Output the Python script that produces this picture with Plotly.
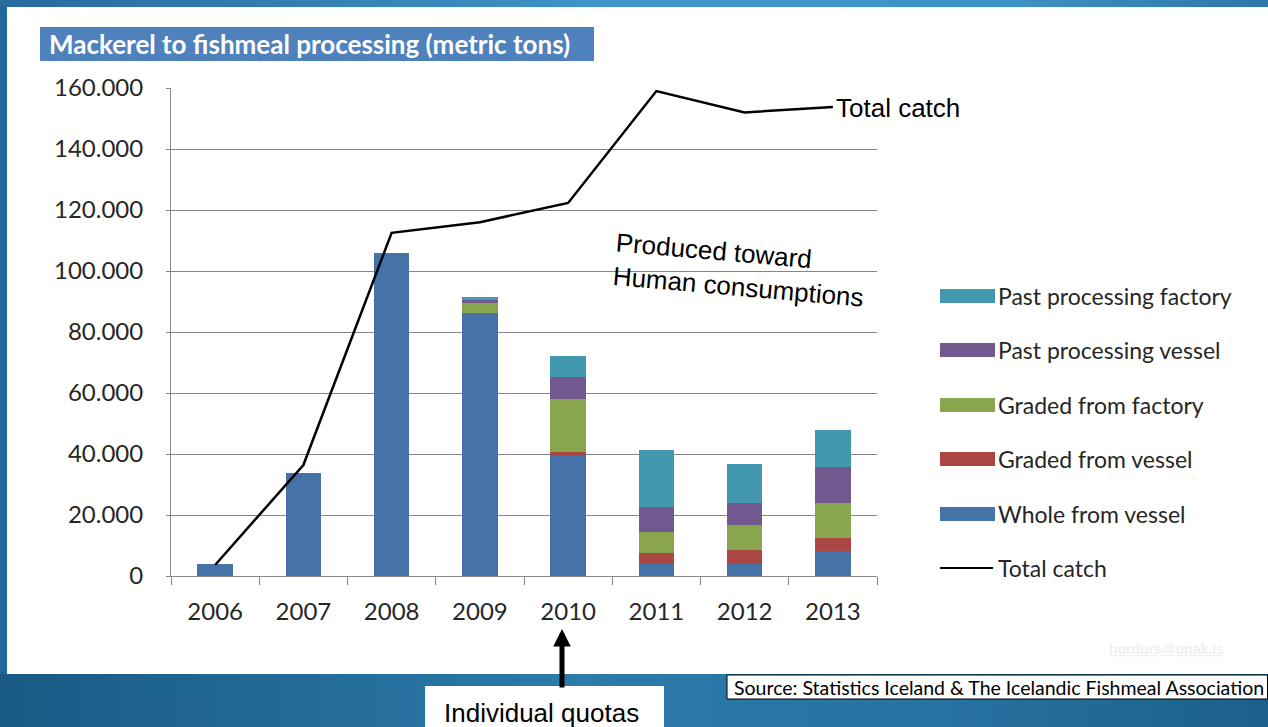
import plotly.graph_objects as go

W, H = 1268, 727

years = ['2006', '2007', '2008', '2009', '2010', '2011', '2012', '2013']
whole_from_vessel = [3800, 33700, 105800, 86300, 39700, 3800, 3800, 8100]
graded_from_vessel = [0, 0, 0, 0, 1000, 3600, 4700, 4400]
graded_from_factory = [0, 0, 0, 3300, 17300, 7100, 8200, 11300]
past_processing_vessel = [0, 0, 0, 1200, 7400, 8200, 7100, 12000]
past_processing_factory = [0, 0, 0, 600, 6700, 18700, 12800, 12000]
total_catch = [3600, 36400, 112500, 116000, 122300, 159000, 152000, 153800]

y_tick_vals = [0, 20000, 40000, 60000, 80000, 100000, 120000, 140000, 160000]
y_tick_text = ['0', '20.000', '40.000', '60.000', '80.000', '100.000', '120.000', '140.000', '160.000']

series = [
    ('Whole from vessel', whole_from_vessel, '#4572A7'),
    ('Graded from vessel', graded_from_vessel, '#AA4643'),
    ('Graded from factory', graded_from_factory, '#89A54E'),
    ('Past processing vessel', past_processing_vessel, '#71588F'),
    ('Past processing factory', past_processing_factory, '#4198AF'),
]


def px(x):
    return x / W


def py(y):
    return 1 - y / H


fig = go.Figure()
for name, vals, col in series:
    fig.add_trace(go.Bar(x=years, y=vals, name=name, marker=dict(color=col, line=dict(width=0))))
fig.add_trace(go.Scatter(x=years, y=total_catch, name='Total catch', mode='lines',
                         line=dict(color='black', width=2.5)))

shapes = []


def lerp(c1, c2, t):
    return '#%02x%02x%02x' % tuple(int(round(a + (b - a) * t)) for a, b in zip(c1, c2))


top_stops = [(0, (0x27, 0x6c, 0x9c)), (0.5, (0x3f, 0x97, 0xc9)), (0.8, (0x3d, 0x92, 0xc4)), (1.0, (0x2c, 0x78, 0xa6))]
bot_stops = [(0, (0x1a, 0x5a, 0x84)), (0.45, (0x2b, 0x7b, 0xab)), (0.75, (0x26, 0x72, 0xa0)), (1.0, (0x1c, 0x60, 0x8c))]


def grad(stops, t):
    for i in range(len(stops) - 1):
        t0, c0 = stops[i]
        t1, c1 = stops[i + 1]
        if t0 <= t <= t1:
            return lerp(c0, c1, (t - t0) / (t1 - t0))
    return lerp(stops[-1][1], stops[-1][1], 0)


N = 64
for i in range(N):
    x0 = W * i / N
    x1 = W * (i + 1) / N + 1
    t = (i + 0.5) / N
    shapes.append(dict(type='rect', xref='paper', yref='paper', x0=px(x0), x1=px(x1), y0=py(8), y1=py(0),
                       fillcolor=grad(top_stops, t), line=dict(width=0), layer='below'))
    shapes.append(dict(type='rect', xref='paper', yref='paper', x0=px(x0), x1=px(x1), y0=py(H), y1=py(674),
                       fillcolor=grad(bot_stops, t), line=dict(width=0), layer='below'))
shapes.append(dict(type='rect', xref='paper', yref='paper', x0=0, x1=px(7), y0=py(674), y1=py(7),
                   fillcolor='#21689a', line=dict(width=0), layer='below'))
shapes.append(dict(type='rect', xref='paper', yref='paper', x0=px(7), x1=1, y0=py(674), y1=py(7),
                   fillcolor='white', line=dict(width=0), layer='below'))
shapes.append(dict(type='rect', xref='paper', yref='paper', x0=px(40), x1=px(594), y0=py(61), y1=py(27),
                   fillcolor='#4F81BD', line=dict(width=0), layer='below'))
shapes.append(dict(type='rect', xref='paper', yref='paper', x0=px(425), x1=px(664), y0=py(727), y1=py(686),
                   fillcolor='white', line=dict(width=0), layer='above'))
shapes.append(dict(type='rect', xref='paper', yref='paper', x0=px(727), x1=px(1267.5), y0=py(699), y1=py(675),
                   fillcolor='white', line=dict(width=1, color='black'), layer='above'))

annotations = []
leg_items = [(n, c) for n, v, c in series][::-1]
leg_y = [296, 350, 405, 459, 514]
for (n, c), yy in zip(leg_items, leg_y):
    shapes.append(dict(type='rect', xref='paper', yref='paper', x0=px(940), x1=px(995), y0=py(yy + 7), y1=py(yy - 7),
                       fillcolor=c, line=dict(width=0)))
    annotations.append(dict(x=px(996), y=py(yy), xref='paper', yref='paper', text=n, showarrow=False,
                            xanchor='left', yanchor='middle', font=dict(family='Lato', size=23, color='#262626')))
shapes.append(dict(type='line', xref='paper', yref='paper', x0=px(940), x1=px(993), y0=py(568), y1=py(568),
                   line=dict(color='black', width=2)))
annotations.append(dict(x=px(996), y=py(568), xref='paper', yref='paper', text='Total catch', showarrow=False,
                        xanchor='left', yanchor='middle', font=dict(family='Lato', size=23, color='#262626')))

annotations += [
    dict(x=px(47), y=py(44), xref='paper', yref='paper', text='<b>Mackerel to fishmeal processing (metric tons)</b>',
         showarrow=False, xanchor='left', yanchor='middle', font=dict(family='Lato', size=26, color='white')),
    dict(x=px(834), y=py(108), xref='paper', yref='paper', text='Total catch', showarrow=False,
         xanchor='left', yanchor='middle', font=dict(family='Liberation Sans', size=26, color='black')),
    dict(x=px(739), y=py(270), xref='paper', yref='paper', text='Produced toward<br>Human consumptions',
         showarrow=False, xanchor='center', yanchor='middle', align='left', textangle=5,
         font=dict(family='Liberation Sans', size=26, color='black')),
    dict(x=px(541), y=py(713), xref='paper', yref='paper', text='Individual quotas', showarrow=False,
         xanchor='center', yanchor='middle', font=dict(family='Liberation Sans', size=26, color='black')),
    dict(x=px(732), y=py(687), xref='paper', yref='paper',
         text='Source: Statistics Iceland &amp; The Icelandic Fishmeal Association', showarrow=False,
         xanchor='left', yanchor='middle', font=dict(family='Lato', size=19.5, color='black')),
    dict(x=px(1166), y=py(649), xref='paper', yref='paper', text='<b><u>hordurs@unak.is</u></b>', showarrow=False,
         xanchor='center', yanchor='middle', font=dict(family='Liberation Sans', size=14, color='#efefef')),
    dict(x=px(562), y=py(629), xref='paper', yref='paper', ax=0, ay=60, axref='pixel', ayref='pixel',
         text='', showarrow=True, arrowhead=2, arrowsize=0.7, arrowwidth=5, arrowcolor='black'),
]

fig.update_layout(
    width=W, height=H, autosize=False,
    margin=dict(l=0, r=0, t=0, b=0, pad=0, autoexpand=False),
    paper_bgcolor='#21689a', plot_bgcolor='rgba(0,0,0,0)',
    barmode='stack', bargap=0.6,
    showlegend=False,
    shapes=shapes, annotations=annotations,
    xaxis=dict(domain=[px(171), px(877)], anchor='y', type='category', showgrid=False, automargin=False,
               showline=True, linecolor='#868686', linewidth=1,
               ticks='outside', tickson='boundaries', ticklen=8, tickcolor='#868686',
               tickfont=dict(family='Lato', size=24, color='#262626'), ticklabelstandoff=14),
    yaxis=dict(domain=[py(576), py(88)], anchor='x', range=[0, 160000], automargin=False,
               tickvals=y_tick_vals, ticktext=y_tick_text,
               showgrid=True, gridcolor='#868686', gridwidth=1, zeroline=False,
               showline=True, linecolor='#868686', linewidth=1,
               ticks='outside', ticklen=4, tickcolor='#868686',
               tickfont=dict(family='Lato', size=24, color='#262626'), ticklabelstandoff=18),
)

fig.write_html('out.html', config={'displayModeBar': False},
               post_script="document.documentElement.style.margin='0';document.body.style.margin='0';"
                           "document.body.style.padding='0';document.documentElement.style.overflow='hidden';")
